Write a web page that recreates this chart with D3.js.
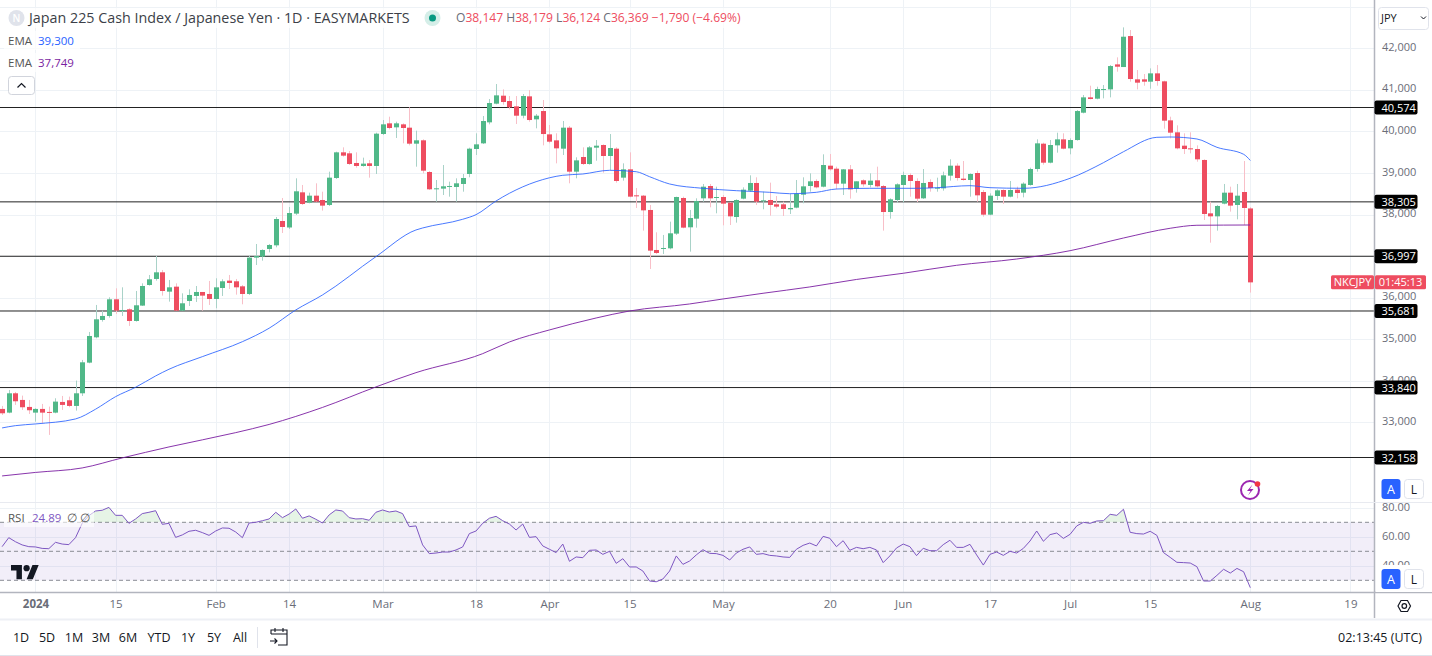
<!DOCTYPE html>
<html><head><meta charset="utf-8">
<style>
html,body{margin:0;padding:0;background:#fff;overflow:hidden}
svg{display:block}
text{font-family:"Open Sans","Noto Sans",sans-serif}
</style>
<script src="https://cdn.jsdelivr.net/npm/d3@7/dist/d3.min.js"></script>
</head><body><svg id="c" width="1432" height="656"></svg>
<script>
const opens=[33326,33237,33702,33542,33374,33237,33326,33254,33237,33494,
33534,33398,33702,34439,35048,35465,35561,35962,35689,35721,
35441,35810,36306,36451,36611,36146,36266,35689,35922,36042,
36138,36090,35970,36234,36411,36395,36274,36090,36964,36988,
37172,37260,37845,37689,38022,38534,38286,38454,38350,38230,
38879,39496,39472,39240,39168,39232,39168,39937,40193,40097,
40169,40089,39704,39785,39023,38615,38623,38671,38663,38735,
38975,39576,39712,40217,40666,40858,40730,40602,40377,40842,
40289,40489,39928,39784,39584,40089,39031,39384,39215,39608,
39672,39408,39584,38887,39087,38462,38454,38110,37148,37172,
37188,37541,38398,37693,37901,38390,38686,38398,38422,38286,
37941,38382,38574,38759,38318,38350,38246,38246,38126,38166,
38478,38686,38807,38670,39175,39103,38743,39087,38622,38823,
38711,38823,38686,38061,38350,38711,38951,38807,38390,38783,
38630,38630,38935,39175,38863,38831,38999,38542,37997,38446,
38590,38430,38598,38526,38711,39095,39704,39247,39664,39808,
39592,39792,40449,40818,40786,41002,41010,41611,41547,42292,
41251,41251,41195,41395,41203,40265,39977,39656,39592,39576,
39312,38029,37957,38262,38526,38230,38542,38147];
const highs=[33398,33782,33734,33646,33542,33342,33446,33382,33582,33638,
33622,34007,34504,35177,35826,35689,36010,36226,36250,35745,
36162,36346,36547,37004,36667,36427,36346,36106,36202,36282,
36138,36403,36467,36443,36547,36451,36306,37004,37292,37164,
37292,37941,38398,38182,38871,38711,38526,38751,38550,39031,
39512,39616,39528,39496,39368,39312,39969,40273,40353,40233,
40193,40578,40017,39809,39047,38831,39191,38791,38871,38975,
39608,39953,40369,40778,41138,41010,40850,40850,40898,40994,
40417,40754,40153,39953,40249,40129,39376,39616,39648,39792,
39688,39936,39616,39231,39496,38638,38470,38230,37573,37509,
37829,38430,38430,38110,38390,38735,38735,38670,38470,38302,
38366,38654,38943,38895,38550,38767,38446,38310,38494,38831,
38895,38991,38847,39448,39456,39151,39095,39191,38799,38847,
38991,39151,38711,38390,38751,39031,38991,38871,39095,38847,
38887,39031,39328,39231,39287,38991,39055,38590,38510,38606,
38606,38807,38670,38775,39127,39808,39728,39792,39968,39953,
39832,40513,40874,41098,41074,41114,41595,41780,42501,42437,
41475,41379,41515,41595,41219,40353,40145,39953,39977,39664,
39328,38310,38230,38735,38670,38735,39287,38179];
const lows=[33181,33221,33422,33302,33205,33021,32981,32701,33221,33302,
33366,33286,33638,34423,35024,35425,35521,35609,35561,35321,
35425,35802,36290,36411,36050,35906,35689,35689,35802,35898,
35689,35826,35746,36042,36210,36074,35842,36066,36787,36891,
37092,37212,37557,37653,37990,38230,38270,38302,38094,38206,
38855,39392,39192,39127,39151,38887,38975,39913,40049,39841,
39712,39664,39151,38991,38591,38310,38470,38430,38310,38550,
38895,39432,39696,40169,40650,40642,40530,40177,40313,40233,
40073,39664,39712,39231,39432,38751,38871,39191,39199,39295,
39007,39071,38767,38815,38414,38158,37613,36691,37052,37052,
37164,37509,37669,37108,37685,38310,38174,38030,37741,37749,
37805,38366,38550,38230,38126,37973,38150,37965,38013,38150,
38270,38550,38630,38654,39055,38606,38470,38382,38526,38670,
38654,38654,37613,37901,38286,38294,38430,38302,38374,38550,
38550,38574,38815,38815,38815,38430,38310,37949,37981,38350,
38254,38414,38390,38414,38695,39031,39199,39231,39488,39568,
39448,39776,40433,40770,40770,40794,40818,41435,41547,41195,
41010,41098,41026,41098,40065,39832,39568,39456,39472,39271,
37869,37324,37613,38246,38070,37885,37749,36124];
const closes=[33221,33702,33510,33366,33294,33326,33237,33237,33502,33422,
33398,33702,34447,35080,35481,35561,35962,35689,35705,35441,
35818,36282,36443,36611,36162,36250,35689,35866,36066,36138,
36050,35970,36250,36395,36355,36250,36090,36964,37004,37148,
37268,37893,37701,38037,38559,38254,38454,38310,38214,38887,
39496,39416,39216,39168,39224,39168,39945,40169,40081,40193,
40081,39704,39785,39055,38607,38631,38679,38687,38751,38879,
39584,39688,40249,40682,40866,40706,40578,40377,40850,40273,
40377,39936,39752,39592,40089,39031,39303,39215,39616,39656,
39408,39600,38807,39087,38430,38446,38101,37132,37076,37196,
37549,38422,37685,37917,38326,38670,38390,38422,38262,37957,
38350,38598,38759,38310,38342,38230,38190,38134,38158,38502,
38678,38799,38654,39191,39087,38743,39087,38606,38799,38727,
38815,38678,38061,38366,38727,38951,38807,38382,38759,38638,
38646,38943,39175,38879,38831,38975,38462,37997,38454,38582,
38430,38590,38518,38743,39095,39712,39247,39672,39808,39584,
39792,40489,40818,40778,41018,41018,41571,41555,42276,41259,
41171,41195,41395,41211,40257,39969,39592,39576,39576,39328,
38013,37957,38206,38526,38214,38454,38158,36369];
const rsiValues=[53.2,59.4,56.6,54.4,53.2,53.0,52.0,51.8,56.2,55.0,
54.6,59.4,69.3,74.6,77.8,78.3,80.3,74.8,74.8,69.3,
72.3,76.0,76.9,78.0,68.6,69.3,59.6,61.3,63.8,64.5,
62.9,61.0,64.0,66.1,65.9,63.3,59.4,69.5,70.0,71.1,
72.3,76.9,73.2,75.7,79.2,72.8,74.4,72.1,69.5,75.1,
78.5,77.8,73.2,72.3,72.5,71.4,76.9,78.5,77.1,77.8,
76.0,67.0,67.5,54.4,48.4,48.8,49.5,49.5,50.9,53.0,
62.2,64.0,69.3,72.8,74.1,71.1,68.8,64.7,68.8,59.6,
60.1,53.7,51.4,49.1,55.0,43.1,46.1,45.6,50.7,50.9,
47.9,50.0,41.7,44.9,39.2,39.2,36.4,29.5,29.0,30.9,
36.4,46.8,41.0,43.3,47.5,51.1,48.6,48.4,47.2,44.0,
48.8,51.4,53.0,47.9,48.4,47.2,46.8,46.1,45.8,51.4,
54.1,55.7,53.7,60.3,59.0,53.2,57.3,50.7,52.7,51.8,
52.7,50.9,42.2,46.8,52.3,55.0,53.2,47.0,52.1,50.4,
50.4,54.6,57.6,52.7,52.7,54.8,47.5,40.5,47.9,49.5,
47.2,50.0,48.8,52.0,57.1,64.0,56.9,61.5,62.6,58.9,
61.7,67.5,70.0,69.3,70.9,71.1,75.5,74.8,79.0,63.1,
62.2,61.9,63.8,61.0,49.1,45.8,42.4,42.2,41.9,39.4,
29.5,29.5,33.4,37.6,35.0,38.2,35.9,24.89];
const emaFastIdx=[0,2,5,11,14,17,20,23,25,30,36,40,44,48,56,62,63,69,71,74,76,80,84,87,91,95,97,100,105,110,115,118,122,125,130,137,140,145,148,153,160,165,168,173,175,179,182,186,187];
const emaFastVal=[32869,32924,32965,33085,33319,33621,33847,34119,34280,34583,34943,35266,35706,36066,36987,37629,37677,37886,37997,38326,38511,38790,38944,38975,39064,39030,38910,38735,38631,38574,38535,38501,38535,38614,38631,38631,38646,38694,38646,38631,38872,39247,39511,39857,39865,39817,39617,39449,39300];
const emaSlowIdx=[0,5,12,18,25,35,40,48,56,62,72,76,82,89,94,103,108,114,121,128,135,143,152,160,168,175,179,183,187];
const emaSlowVal=[31715,31799,31907,32148,32412,32756,32953,33362,33855,34198,34655,34936,35225,35513,35681,35850,35970,36107,36259,36439,36588,36780,36931,37131,37436,37670,37742,37746,37749];
const levels=[40574,38305,36997,35681,33840,32158];
const priceTicks=[42000,41000,40000,39000,38000,37000,36000,35000,34000,33000];
const gridPrices=[43000,42000,41000,40000,39000,38000,37000,36000,35000,34000,33000];
const rsiTicks=[80,60,40];
const rsiBands=[70,50,30];
const tickIdx=[5,17,32,43,57,71,82,94,108,124,135,148,160,172,187,202];
const tickLabels=["2024","15","Feb","14","Mar","18","Apr","15","May","20","Jun","17","Jul","15","Aug","19"];
const ranges=["1D","5D","1M","3M","6M","YTD","1Y","5Y","All"];

const UP="#50b888",DOWN="#ee4d60",UPW="#a9d2c8",DOWNW="#f8bfc8",GRID="#eef2f6",AX="#b2b5be",TXT="#131722",GR="#6a6d78";
const svg=d3.select("#c");
const PW=1374.5;
const x=d3.scaleLinear().domain([0,187]).range([2.1,1250.3]);
const y=d3.scaleLinear().domain([40574,32158]).range([107.5,457.5]);
const ry=d3.scaleLinear().domain([70,30]).range([522.3,580.3]);
const fmt=d3.format(",");

svg.append("rect").attr("width",1432).attr("height",656).attr("fill","#fff");
const defs=svg.append("defs");
defs.append("clipPath").attr("id","pane").append("rect").attr("width",PW).attr("height",592);
defs.append("clipPath").attr("id","ob").append("rect").attr("width",PW).attr("height",ry(70));

// grids
const g=svg.append("g").attr("clip-path","url(#pane)");
g.selectAll(".v").data(tickIdx).join("line").attr("x1",d=>Math.round(x(d))+.5).attr("x2",d=>Math.round(x(d))+.5).attr("y1",0).attr("y2",592).attr("stroke",GRID);
g.selectAll(".h").data(gridPrices).join("line").attr("x1",0).attr("x2",PW).attr("y1",d=>Math.round(y(d))+.5).attr("y2",d=>Math.round(y(d))+.5).attr("stroke",GRID);
g.selectAll(".r").data(rsiTicks).join("line").attr("x1",0).attr("x2",PW).attr("y1",d=>Math.round(ry(d))+.5).attr("y2",d=>Math.round(ry(d))+.5).attr("stroke",GRID);

// level lines
g.selectAll(".lv").data(levels).join("line").attr("x1",0).attr("x2",PW).attr("y1",d=>y(d)).attr("y2",d=>y(d)).attr("stroke","#222").attr("stroke-width",1);

// candles
const idx=d3.range(opens.length);
const cx=i=>Math.round(x(i));
g.selectAll(".w").data(idx).join("line").attr("x1",i=>cx(i)+.5).attr("x2",i=>cx(i)+.5)
 .attr("y1",i=>y(highs[i])).attr("y2",i=>y(lows[i]))
 .attr("stroke",i=>closes[i]>=opens[i]?UPW:DOWNW);
g.selectAll(".b").data(idx).join("rect").attr("x",i=>cx(i)-2).attr("width",5)
 .attr("y",i=>y(Math.max(opens[i],closes[i])))
 .attr("height",i=>Math.max(1,y(Math.min(opens[i],closes[i]))-y(Math.max(opens[i],closes[i]))))
 .attr("fill",i=>closes[i]>=opens[i]?UP:DOWN);

// EMA
const ln=d3.line().x(d=>x(d[0])).y(d=>y(d[1])).curve(d3.curveMonotoneX);
g.append("path").attr("d",ln(d3.zip(emaFastIdx,emaFastVal))).attr("fill","none").attr("stroke","#2962ff").attr("stroke-opacity",.85).attr("stroke-width",1);
g.append("path").attr("d",ln(d3.zip(emaSlowIdx,emaSlowVal))).attr("fill","none").attr("stroke","#7b1fa2").attr("stroke-opacity",.9).attr("stroke-width",1);

// RSI pane
g.append("rect").attr("x",0).attr("width",PW).attr("y",ry(70)).attr("height",ry(30)-ry(70)).attr("fill","#7e57c2").attr("fill-opacity",.1);
g.selectAll(".rb").data(rsiBands).join("line").attr("x1",0).attr("x2",PW).attr("y1",d=>ry(d)).attr("y2",d=>ry(d)).attr("stroke","#8a8c94").attr("stroke-dasharray","4 3");
const rsiArea=d3.area().x((d,i)=>x(i)).y0(ry(70)).y1(d=>ry(d));
g.append("path").attr("clip-path","url(#ob)").attr("d",rsiArea(rsiValues)).attr("fill","#4caf50").attr("fill-opacity",.14);
g.append("path").attr("d",d3.line().x((d,i)=>x(i)).y(d=>ry(d))(rsiValues)).attr("fill","none").attr("stroke","#7e57c2").attr("stroke-width",1);

// frame
svg.append("line").attr("x1",0).attr("x2",PW).attr("y1",502.5).attr("y2",502.5).attr("stroke","#e0e3eb");
svg.append("line").attr("x1",0).attr("x2",1432).attr("y1",592.5).attr("y2",592.5).attr("stroke",AX).attr("stroke-width",1.5);
svg.append("line").attr("x1",PW).attr("x2",PW).attr("y1",0).attr("y2",618).attr("stroke",AX).attr("stroke-width",1.5);
svg.append("line").attr("x1",0).attr("x2",1432).attr("y1",502.5).attr("y2",502.5).attr("stroke","#e8eaf0");
svg.append("line").attr("x1",0).attr("x2",1432).attr("y1",619.5).attr("y2",619.5).attr("stroke","#eef0f5").attr("stroke-width",2);
svg.append("line").attr("x1",0).attr("x2",1432).attr("y1",655.5).attr("y2",655.5).attr("stroke","#e0e3eb");

// price axis
const pa=svg.append("g").attr("transform",`translate(${PW},0)`).call(d3.axisRight(y).tickValues(priceTicks).tickFormat(fmt).tickSize(0));
pa.select(".domain").remove();
pa.selectAll("text").attr("x",7.5).attr("dy","0.2em").attr("font-size",11).attr("fill",GR).style("font-family",'"Open Sans",sans-serif');

// rsi axis
const ra=svg.append("g").attr("transform",`translate(${PW},0)`).call(d3.axisRight(ry).tickValues(rsiTicks).tickFormat(d3.format(".2f")).tickSize(0));
ra.select(".domain").remove();
ra.selectAll("text").attr("x",7.5).attr("dy","0.25em").attr("font-size",11).attr("fill",GR);

// time axis
const ta=svg.append("g").attr("transform","translate(0,592)").call(d3.axisBottom(x).tickValues(tickIdx).tickFormat((d,i)=>tickLabels[i]).tickSize(0));
ta.select(".domain").remove();
ta.selectAll("text").attr("y",8).attr("font-size",11.5).attr("fill",GR).attr("font-weight",(d,i)=>i==0?700:400);

// level labels
const lb=svg.append("g").selectAll("g").data(levels).join("g").attr("transform",d=>`translate(${PW},${y(d)})`);
lb.append("rect").attr("x",0).attr("y",-7).attr("width",43).attr("height",14).attr("rx",2).attr("fill","#000");
lb.append("text").attr("x",7).attr("y",4).attr("font-size",11).attr("font-weight",500).attr("fill","#fff").text(fmt);

// countdown
const cy=282.3;
svg.append("rect").attr("x",1331).attr("y",cy-7).attr("width",43).attr("height",14).attr("rx",1.5).attr("fill",DOWN);
svg.append("rect").attr("x",1375).attr("y",cy-7).attr("width",51).attr("height",14).attr("rx",1.5).attr("fill",DOWN);
svg.append("text").attr("x",1352.5).attr("y",cy+4).attr("text-anchor","middle").attr("font-size",11).attr("fill","#fff").text("NKCJPY");
svg.append("text").attr("x",1400.5).attr("y",cy+4).attr("text-anchor","middle").attr("font-size",11).attr("fill","#fff").text("01:45:13");

// JPY button
svg.append("rect").attr("x",1378.5).attr("y",7.5).attr("width",50).attr("height",22).attr("rx",3).attr("fill","#fff").attr("stroke","#e0e3eb");
svg.append("text").attr("x",1381).attr("y",22).attr("font-size",11).attr("fill",TXT).text("JPY");
svg.append("path").attr("d","M1421 16.5l2.5 2.5l2.5 -2.5").attr("fill","none").attr("stroke",TXT);

// Legends
svg.append("rect").attr("x",4).attr("y",8).attr("width",745).attr("height",20).attr("fill","#fff").attr("fill-opacity",.7);
svg.append("rect").attr("x",4).attr("y",31).attr("width",76).attr("height",19).attr("fill","#fff").attr("fill-opacity",.7);
svg.append("rect").attr("x",4).attr("y",53).attr("width",76).attr("height",19).attr("fill","#fff").attr("fill-opacity",.7);
svg.append("circle").attr("cx",16.5).attr("cy",18).attr("r",8).attr("fill","#e0e3eb");
svg.append("text").attr("x",16.5).attr("y",21.5).attr("text-anchor","middle").attr("font-size",10).attr("font-weight",600).attr("fill","#fff").text("N");
svg.append("text").attr("x",29).attr("y",23).attr("font-size",14.3).attr("fill","#3c3f48").text("Japan 225 Cash Index / Japanese Yen · 1D · EASYMARKETS");
svg.append("circle").attr("cx",432.5).attr("cy",18).attr("r",8).attr("fill","#d5eee8");
svg.append("circle").attr("cx",432.5).attr("cy",18).attr("r",3.5).attr("fill","#089981");
const ohlc=svg.append("text").attr("x",456).attr("y",22).attr("font-size",12.1).attr("fill",DOWN);
[["O",GR],["38,147",DOWN],[" H",GR],["38,179",DOWN],[" L",GR],["36,124",DOWN],[" C",GR],["36,369",DOWN],[" −1,790 (−4.69%)",DOWN]]
 .forEach(d=>ohlc.append("tspan").attr("fill",d[1]).style("white-space","pre").text(d[0]));
[["39,300","#2962ff",45],["37,749","#7b1fa2",67]].forEach(d=>{
  svg.append("text").attr("x",8).attr("y",d[2]).attr("font-size",11.5).attr("fill","#555").text("EMA");
  svg.append("text").attr("x",38).attr("y",d[2]).attr("font-size",11.5).attr("fill",d[1]).text(d[0]);
});
svg.append("rect").attr("x",8.5).attr("y",76.5).attr("width",26).attr("height",18).attr("rx",3).attr("fill","#fff").attr("stroke","#d1d4dc");
svg.append("path").attr("d","M17.5 87.5l4 -4l4 4").attr("fill","none").attr("stroke",TXT).attr("stroke-width",1.2);

// RSI legend
svg.append("rect").attr("x",4).attr("y",510).attr("width",90).attr("height",17).attr("fill","#fff").attr("fill-opacity",.6);
svg.append("text").attr("x",8).attr("y",522).attr("font-size",11.5).attr("fill","#555").text("RSI");
svg.append("text").attr("x",32).attr("y",522).attr("font-size",11.5).attr("fill","#7e57c2").text("24.89");
svg.append("text").attr("x",67).attr("y",522).attr("font-size",11.5).attr("fill","#555").text("∅");
svg.append("text").attr("x",80).attr("y",522).attr("font-size",11.5).attr("fill","#555").text("∅");

// TV logo
svg.append("g").attr("transform","translate(11,562) scale(0.78)").call(s=>{
  s.append("path").attr("d","M14 22H7V11H0V4h14v18zM28 22h-8l7.5-18h8L28 22z").attr("fill","#131722");
  s.append("circle").attr("cx",20).attr("cy",8).attr("r",4).attr("fill","#131722");
});

// lightning icon
svg.append("circle").attr("cx",1250).attr("cy",490).attr("r",9).attr("fill","#fff").attr("stroke","#9c27b0").attr("stroke-width",2);
svg.append("path").attr("d","M1252.5 484.5l-5.5 6.5h3.5l-2.5 4.5l5.5 -6.5h-3.5z").attr("fill","#9c27b0");
svg.append("circle").attr("cx",1257.5).attr("cy",484).attr("r",2.8).attr("fill","#f23645");

// A/L
[[479,0],[569,1]].forEach(d=>{
  if(d[1]) svg.append("rect").attr("x",1376).attr("y",565).attr("width",56).attr("height",27).attr("fill","#fff");
  svg.append("rect").attr("x",1381.5).attr("y",d[0]).attr("width",19).attr("height",20).attr("rx",3).attr("fill","#2962ff");
  svg.append("text").attr("x",1391).attr("y",d[0]+14.5).attr("text-anchor","middle").attr("font-size",12.5).attr("fill","#fff").text("A");
  svg.append("rect").attr("x",1404.5).attr("y",d[0]+.5).attr("width",19).attr("height",19).attr("rx",3).attr("fill","#fff").attr("stroke","#e0e3eb");
  svg.append("text").attr("x",1414).attr("y",d[0]+14.5).attr("text-anchor","middle").attr("font-size",12).attr("fill",TXT).text("L");
});

// settings hex
svg.append("path").attr("d","M1398 606l3 -5.5h6.5l3 5.5l-3 5.5h-6.5z").attr("fill","none").attr("stroke",TXT).attr("stroke-width",1.2);
svg.append("circle").attr("cx",1404.3).attr("cy",606).attr("r",2.3).attr("fill","none").attr("stroke",TXT).attr("stroke-width",1.2);

// Bottom bar
const rx=[21,47,74,101,128,159,188,214,240];
svg.selectAll(".rg").data(ranges).join("text").attr("x",(d,i)=>rx[i]).attr("y",642).attr("text-anchor","middle").attr("font-size",12.5).attr("fill",TXT).text(d=>d);
svg.append("line").attr("x1",257.5).attr("x2",257.5).attr("y1",627).attr("y2",648).attr("stroke","#e0e3eb");
svg.append("path").attr("d","M271 634v-4h16v15h-9M271 634h16M275 628v4M283 628v4M270 641h7M274.5 638.5l2.5 2.5l-2.5 2.5").attr("fill","none").attr("stroke",TXT).attr("stroke-width",1.1);
svg.append("text").attr("x",1422).attr("y",642).attr("text-anchor","end").attr("font-size",12.5).attr("fill",TXT).text("02:13:45 (UTC)");
</script></body></html>
